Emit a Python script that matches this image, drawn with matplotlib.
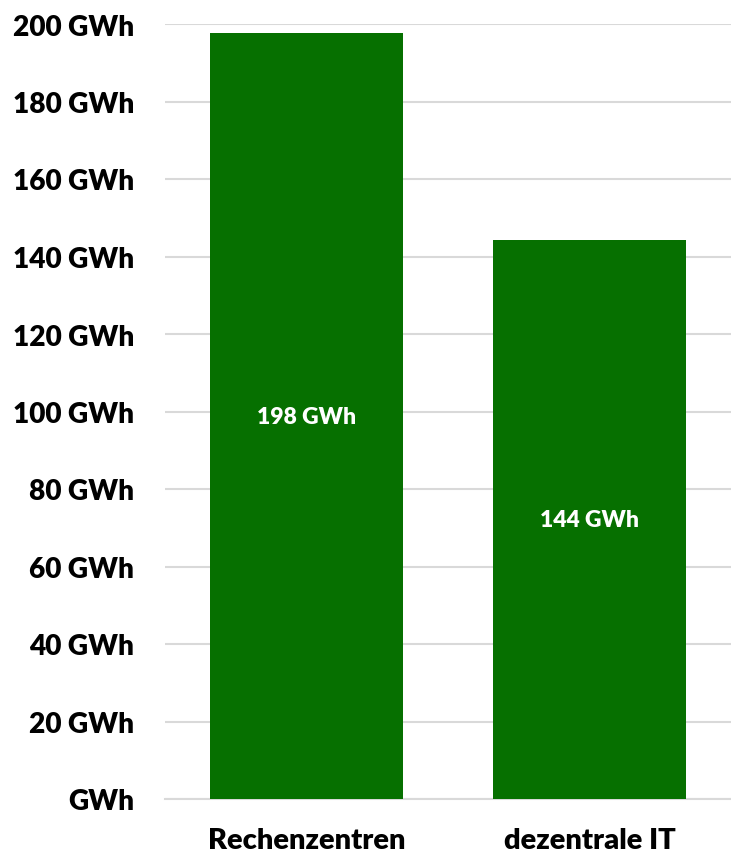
import matplotlib
matplotlib.use("Agg")
import matplotlib.pyplot as plt
from matplotlib.ticker import FuncFormatter

categories = ["Rechenzentren", "dezentrale IT"]
values = [197.6, 144.3]
yticks = [0, 20, 40, 60, 80, 100, 120, 140, 160, 180, 200]

plt.rcParams['font.family'] = ['Lato', 'DejaVu Sans']
plt.rcParams['font.weight'] = 'bold'

fig = plt.figure(figsize=(7.31, 8.54), dpi=100)
ax = fig.add_axes([165/731, (854-800)/854, 1 - 165/731, (800-25)/854])

x = range(len(categories))
bars = ax.bar(x, values, width=0.68, color='#067000', zorder=3)
for xi, v in zip(x, values):
    ax.text(xi, v/2, f"{v:.0f} GWh", ha='center', va='center', color='white',
            fontsize=16.5, fontweight='heavy', zorder=4)

ax.set_xlim(-0.5, 1.5)
ax.set_ylim(0, 200)
ax.set_yticks(yticks)
ax.yaxis.set_major_formatter(FuncFormatter(lambda v, p: "GWh" if v == 0 else f"{int(v)} GWh"))
ax.set_xticks(list(x))
ax.set_xticklabels(categories)
ax.tick_params(axis='y', length=0, pad=22, labelsize=20.2)
ax.tick_params(axis='x', length=0, pad=20, labelsize=21)
for lab in ax.get_yticklabels() + ax.get_xticklabels():
    lab.set_fontweight('heavy')
    lab.set_color('black')

ax.grid(axis='y', color='#d9d9d9', linewidth=1.5, zorder=0)
for s in ['top', 'right', 'left']:
    ax.spines[s].set_visible(False)
ax.spines['bottom'].set_color('#d9d9d9')
ax.spines['bottom'].set_linewidth(1.5)

fig.savefig("out.png", dpi=100)
